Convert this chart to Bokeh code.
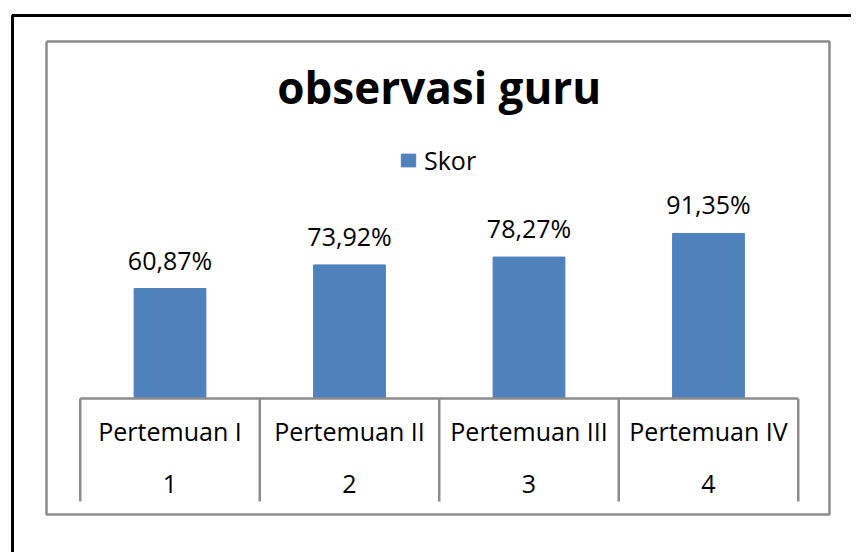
from bokeh.plotting import figure
from bokeh.models import Range1d, Legend, LegendItem, Label, ColumnDataSource
from bokeh.core.properties import value
from bokeh.embed import file_html
from bokeh.resources import INLINE

# ---- data ----
categories = ["Pertemuan I", "Pertemuan II", "Pertemuan III", "Pertemuan IV"]
sessions = ["1", "2", "3", "4"]
scores = [60.87, 73.92, 78.27, 91.35]
series_name = "Skor"
chart_title = "observasi guru"

FONT = "Open Sans"
BLUE = "#4F81BD"
GREY = "#8c8c8c"

n = len(categories)
xs = [i + 1 for i in range(n)]
labels = [f"{v:.2f}%".replace(".", ",") for v in scores]

# data-unit layout: 1 category = 179.5 px, 1 score unit = 1.807 px
p = figure(width=851, height=552, output_backend="svg", toolbar_location=None,
           x_range=Range1d(0.0557, 4.7967), y_range=Range1d(-85.22, 220.25),
           min_border=0, min_border_left=0, min_border_right=0,
           min_border_top=0, min_border_bottom=0,
           x_axis_location=None, y_axis_location=None,
           outline_line_color=None, background_fill_color="white",
           border_fill_color="white")
p.title.visible = False
p.grid.visible = False

# outer black frame (top and left visible)
p.line(x=[0.1226, 0.1226, 4.9], y=[-95, 211.95, 211.95], line_color="black", line_width=3)

# inner grey chart border
p.line(x=[0.312, 4.674, 4.674, 0.312, 0.312], y=[197.6, 197.6, -64.2, -64.2, 197.6],
       line_color=GREY, line_width=2.5)

# bars
src = ColumnDataSource(dict(x=xs, top=scores, label=labels))
bars = p.vbar(x="x", top="top", bottom=0, width=0.4, source=src,
              fill_color=BLUE, line_color=BLUE)

# value labels
p.text(x="x", y="top", text="label", source=src, text_align="center",
       text_baseline="alphabetic", y_offset=-29, text_font=value(FONT),
       text_font_size="25px", text_color="black")

# category table
p.segment(x0=[0.5], y0=[0], x1=[n + 0.5], y1=[0], line_color=GREY, line_width=2.5)
p.segment(x0=[i + 0.5 for i in range(n + 1)], y0=[0] * (n + 1),
          x1=[i + 0.5 for i in range(n + 1)], y1=[-57.0] * (n + 1),
          line_color=GREY, line_width=2.5)
p.text(x=xs, y=[-18.1] * n, text=categories, text_align="center",
       text_baseline="alphabetic", text_font=value(FONT), text_font_size="25px",
       text_color="black")
p.text(x=xs, y=[-47.4] * n, text=sessions, text_align="center",
       text_baseline="alphabetic", text_font=value(FONT), text_font_size="25px",
       text_color="black")

# title
p.add_layout(Label(x=2.5, y=172.2, text=chart_title, text_align="center",
                   text_baseline="alphabetic", text_font=FONT,
                   text_font_style="bold", text_font_size="44px",
                   text_color="black"))

# legend
legend = Legend(items=[LegendItem(label=series_name, renderers=[bars])],
                location=(399, 375), orientation="horizontal",
                padding=0, margin=0, spacing=0, label_standoff=7,
                glyph_width=18, glyph_height=16,
                label_text_font=FONT, label_text_font_size="25px",
                label_text_color="black",
                border_line_color=None, background_fill_alpha=0)
p.add_layout(legend)

open("out.html", "w").write(file_html(p, INLINE))
